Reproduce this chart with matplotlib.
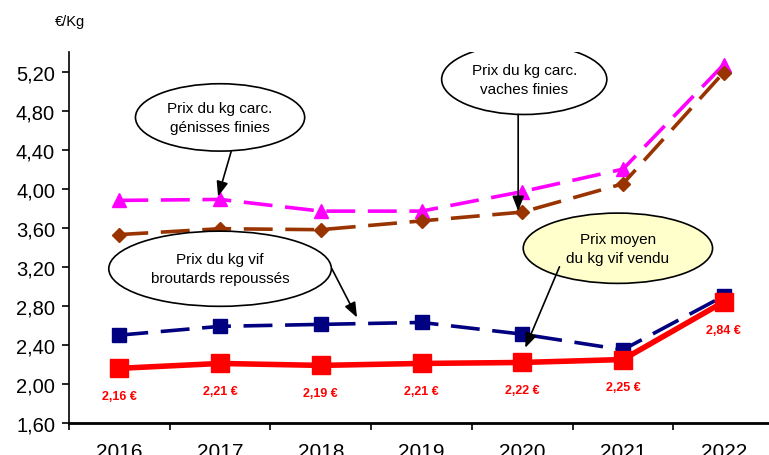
import matplotlib.pyplot as plt
import numpy as np
from matplotlib.patches import Ellipse

plt.rcParams['font.family'] = ['Liberation Sans', 'DejaVu Sans']

years = ["2016", "2017", "2018", "2019", "2020", "2021", "2022"]
genisses = [3.88, 3.89, 3.77, 3.77, 3.97, 4.20, 5.27]
vaches = [3.53, 3.59, 3.58, 3.67, 3.76, 4.05, 5.19]
broutards = [2.50, 2.59, 2.61, 2.63, 2.51, 2.35, 2.90]
prix_moyen = [2.16, 2.21, 2.19, 2.21, 2.22, 2.25, 2.84]
yticks = [1.60, 2.00, 2.40, 2.80, 3.20, 3.60, 4.00, 4.40, 4.80, 5.20]

fig = plt.figure(figsize=(7.69, 4.56), dpi=100)
ax = fig.add_axes([69 / 769, 1 - 424 / 456, 705 / 769, (424 - 53) / 456])
x = np.arange(len(years))

ax.plot(x, genisses, color='#FF00FF', lw=2.6, dashes=(8, 3.5), marker='^', ms=10, zorder=3)
ax.plot(x, vaches, color='#993300', lw=2.6, dashes=(8, 3.5), marker='D', ms=7.5, zorder=3)
ax.plot(x, broutards, color='#000080', lw=2.6, dashes=(8, 3.5), marker='s', ms=9.5, zorder=3)
ax.plot(x, prix_moyen, color='#FF0000', lw=4, marker='s', ms=13, zorder=4)

for i, v in enumerate(prix_moyen):
    lab = "{:.2f} €".format(v).replace('.', ',')
    ax.annotate(lab, (i, v), xytext=(0, -20), textcoords='offset points',
                ha='center', va='center', color='red', fontsize=9, fontweight='bold',
                family=['Liberation Sans Narrow', 'Liberation Sans'])

# bulles
bulles = [
    (1.00, 4.73, 1.68, 0.69, "Prix du kg carc.\ngénisses finies", 'white'),
    (4.02, 5.12, 1.64, 0.72, "Prix du kg carc.\nvaches finies", 'white'),
    (1.00, 3.18, 2.21, 0.77, "Prix du kg vif\nbroutards repoussés", 'white'),
    (4.95, 3.39, 1.88, 0.72, "Prix moyen\ndu kg vif vendu", '#FFFFCC'),
]
for cx, cy, w, h, txt, fc in bulles:
    ax.add_patch(Ellipse((cx, cy), w, h, facecolor=fc, edgecolor='black', lw=1.2, zorder=5))
    ax.text(cx, cy, txt, ha='center', va='center', fontsize=11, linespacing=1.45, zorder=6)

fleches = [
    ((1.11, 4.38), (0.98, 3.92)),
    ((3.96, 4.76), (3.96, 3.77)),
    ((2.11, 3.18), (2.36, 2.68)),
    ((4.37, 3.20), (4.03, 2.37)),
]
for debut, fin in fleches:
    ax.annotate("", xy=fin, xytext=debut,
                arrowprops=dict(arrowstyle='-|>,head_length=0.9,head_width=0.35', color='black',
                                lw=1.2, shrinkA=0, shrinkB=0),
                zorder=6)

ax.set_xlim(-0.5, 6.5)
ax.set_ylim(1.6, 5.4)
ax.set_yticks(yticks)
ax.set_yticklabels(["{:.2f}".format(t).replace('.', ',') for t in yticks], fontsize=14.5)
ax.set_xticks(x)
ax.set_xticklabels(years, fontsize=15)
ax.set_xticks(np.arange(-0.5, 7, 1), minor=True)
ax.tick_params(axis='x', which='major', length=0, pad=14)
ax.tick_params(axis='x', which='minor', length=5, width=1.2)
ax.tick_params(axis='y', length=5, width=1.2, pad=5)
ax.spines['top'].set_visible(False)
ax.spines['right'].set_visible(False)
ax.spines['left'].set_linewidth(1.2)
ax.spines['bottom'].set_linewidth(2)

fig.text(55 / 769, 1 - 22 / 456, "€/Kg", fontsize=10.5, va='center', ha='left')

fig.savefig("out.png", dpi=100)
